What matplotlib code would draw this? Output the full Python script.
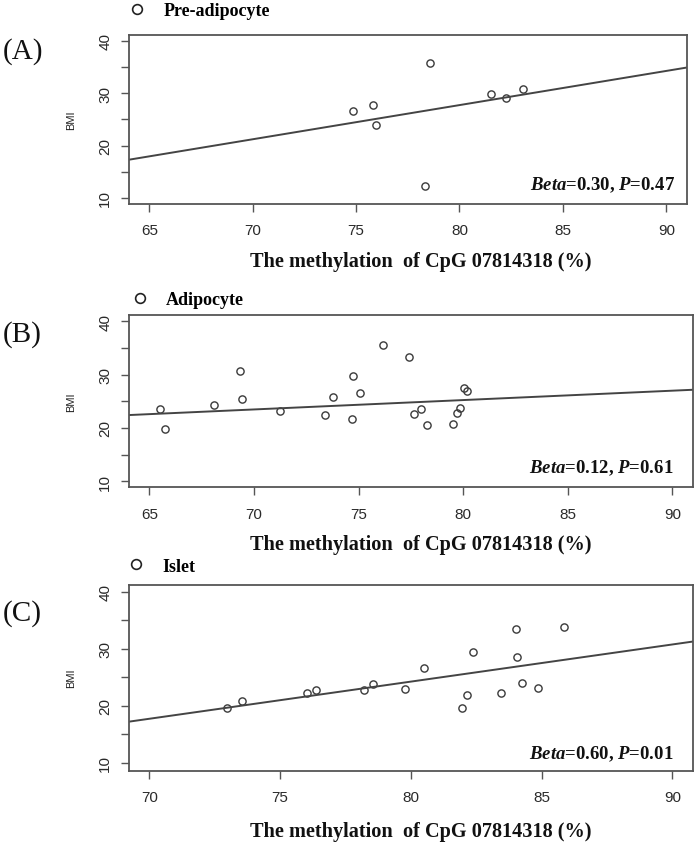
import numpy as np
import matplotlib
matplotlib.use("Agg")
import matplotlib.pyplot as plt
from matplotlib.lines import Line2D

plt.rcParams['mathtext.fontset'] = 'custom'
plt.rcParams['mathtext.rm'] = 'Liberation Serif:bold'
plt.rcParams['mathtext.it'] = 'Liberation Serif:italic:bold'
plt.rcParams['mathtext.bf'] = 'Liberation Serif:bold'

# ---------------- data ----------------
pre_x = [74.85, 75.82, 75.98, 78.56, 78.31, 81.53, 82.26, 83.08]
pre_y = [26.66, 27.68, 23.85, 35.79, 12.37, 29.79, 29.09, 30.81]

adi_x = [65.49, 65.74, 68.10, 69.35, 69.44, 71.24, 73.40, 73.76, 74.68, 74.72,
         75.08, 76.18, 77.42, 77.67, 77.97, 78.26, 79.52, 79.69, 79.86, 80.03, 80.17]
adi_y = [23.55, 19.72, 24.37, 30.65, 25.37, 23.18, 22.36, 25.81, 21.67, 29.83,
         26.50, 35.61, 33.35, 22.67, 23.55, 20.48, 20.67, 22.80, 23.74, 27.57, 27.01]

isl_x = [72.95, 73.56, 76.02, 76.38, 78.20, 78.54, 79.79, 80.49, 81.94, 82.14,
         82.38, 83.45, 84.03, 84.07, 84.25, 84.88, 85.86]
isl_y = [19.67, 20.79, 22.31, 22.78, 22.84, 23.89, 22.89, 26.58, 19.55, 21.90,
         29.40, 22.25, 33.38, 28.51, 24.06, 23.07, 33.73]

# fitted regression lines as shown in the figure (intercept, slope)
fit_intercept = [-24.44, 11.15, -27.76]
fit_slope = [0.652, 0.176, 0.650]

panel_letters = ["(A)", "(B)", "(C)"]
cell_types = ["Pre-adipocyte", "Adipocyte", "Islet"]
stats_text = [r"$\mathit{Beta}$=0.30, $\mathit{P}$=0.47",
              r"$\mathit{Beta}$=0.12, $\mathit{P}$=0.61",
              r"$\mathit{Beta}$=0.60, $\mathit{P}$=0.01"]
x_ticks = [[65, 70, 75, 80, 85, 90], [65, 70, 75, 80, 85, 90], [70, 75, 80, 85, 90]]
y_ticks = [10, 15, 20, 25, 30, 35, 40]
y_ticklabels = ["10", "", "20", "", "30", "", "40"]
xlabel_text = "The methylation  of CpG 07814318 (%)"
ylabel_text = "BMI"

datasets = [(pre_x, pre_y), (adi_x, adi_y), (isl_x, isl_y)]

# ---------------- layout (pixels) ----------------
W, H = 697, 845
fig = plt.figure(figsize=(W / 100, H / 100), dpi=100)

# left, top, right, bottom in pixels
boxes = [(129, 35.7, 687, 205), (129, 315.7, 692.7, 488.3), (129, 585.7, 692.7, 771.7)]
xlims = [(64.02, 91.0), (64.03, 90.97), (69.22, 90.78)]
ylims = [(8.85, 41.15), (8.87, 41.24), (8.65, 41.2)]
letter_y = [52, 335, 614]
legend_pos = [(135, 11.7), (138, 300.5), (134, 567)]
xlabel_y = [261.7, 545, 831.7]
stat_off = [(12, 20), (19, 20), (19, 17)]

dark = "#3a3a3a"
sans = "Liberation Sans"
serif = "Liberation Serif"

for i, (xs, ys) in enumerate(datasets):
    l, t, r, b = boxes[i]
    ax = fig.add_axes([l / W, 1 - b / H, (r - l) / W, (b - t) / H])
    ax.plot(xs, ys, ls="none", marker="o", ms=5.2, mfc="none", mec=dark, mew=1.0)
    ax.axline((0, fit_intercept[i]), slope=fit_slope[i], color="#444444", lw=1.4)
    ax.set_xlim(*xlims[i])
    ax.set_ylim(*ylims[i])
    ax.set_xticks(x_ticks[i])
    ax.set_xticklabels([str(v) for v in x_ticks[i]], fontfamily=sans, fontsize=11, color="#2a2a2a")
    ax.set_yticks(y_ticks)
    ax.set_yticklabels(y_ticklabels, fontfamily=sans, fontsize=11, color="#2a2a2a",
                       rotation=90, va="center")
    ax.tick_params(axis="both", direction="out", length=6, width=1.0, color="#555555")
    ax.tick_params(axis="x", pad=8)
    ax.tick_params(axis="y", pad=6)
    for s in ax.spines.values():
        s.set_color("#555555")
        s.set_linewidth(1.3)
    ax.set_ylabel(ylabel_text, fontfamily=sans, fontsize=8, color="#222222")
    ax.yaxis.set_label_coords((76 - l) / (r - l), 0.5)

    ax.annotate(stats_text[i], xy=(1, 0), xycoords="axes fraction",
                xytext=(-stat_off[i][0], stat_off[i][1]), textcoords="offset pixels",
                ha="right", va="center", fontfamily=serif, fontweight="bold", fontsize=13.5,
                color="#111111")

    fig.text(3 / W, 1 - letter_y[i] / H, panel_letters[i], ha="left", va="center",
             fontfamily=serif, fontsize=21, color="#111111")

    lx, ly = legend_pos[i]
    handle = Line2D([], [], ls="none", marker="o", ms=7, mfc="none", mec="#222222", mew=1.2)
    fig.legend([handle], [cell_types[i]], loc="center left",
               bbox_to_anchor=((lx - 7) / W, 1 - ly / H), bbox_transform=fig.transFigure,
               frameon=False, borderpad=0, borderaxespad=0, handlelength=1.0,
               handletextpad=0.95, prop={"family": serif, "weight": "bold", "size": 13})

    fig.text(421 / W, 1 - xlabel_y[i] / H, xlabel_text, ha="center", va="center",
             fontfamily=serif, fontweight="bold", fontsize=14.6, color="#111111")

fig.savefig("out.png", dpi=100)
